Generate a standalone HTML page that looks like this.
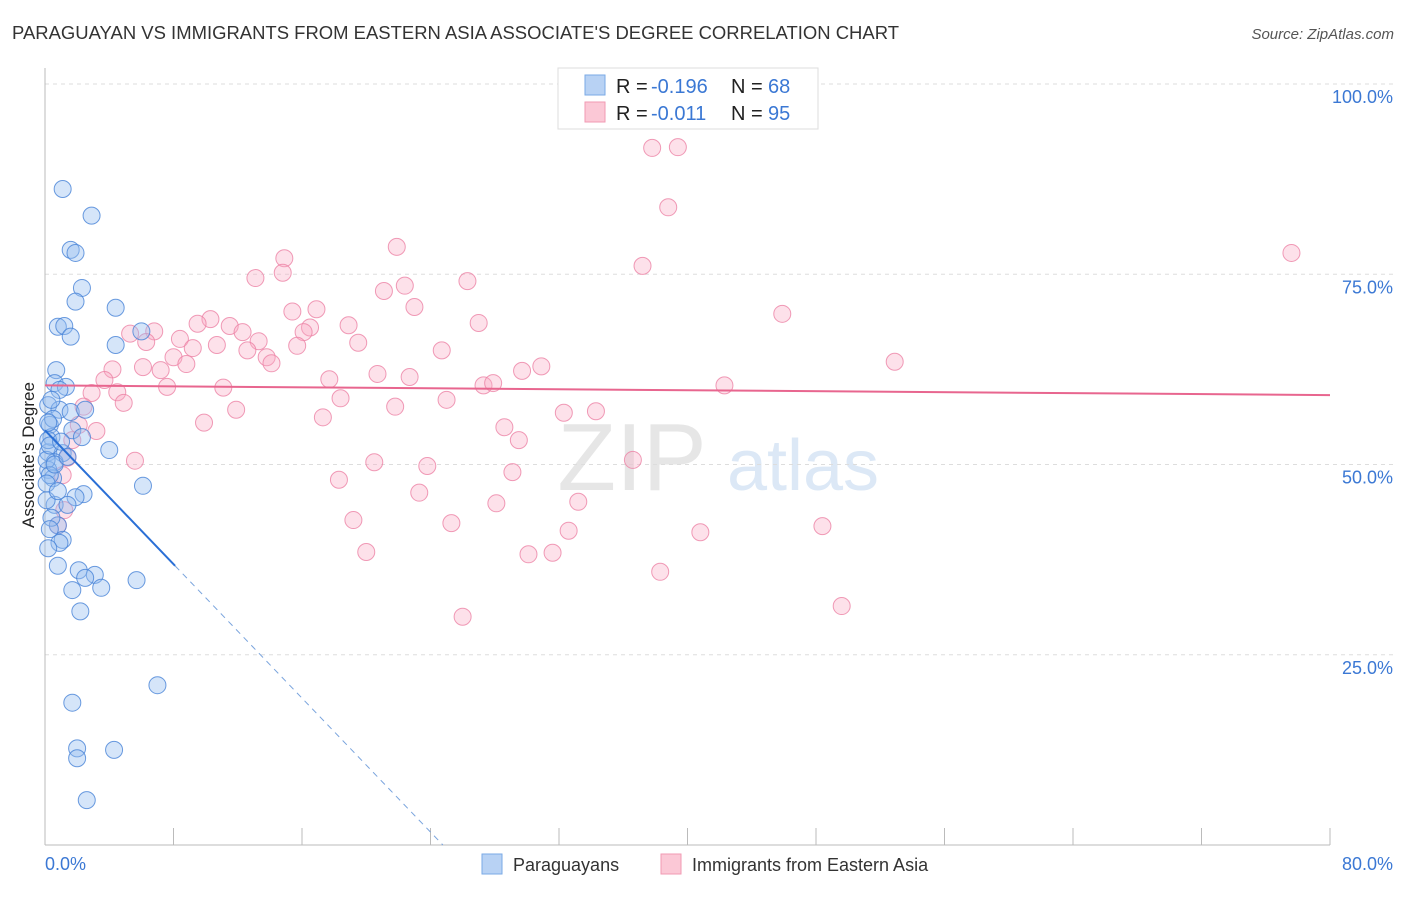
<!DOCTYPE html>
<html><head><meta charset="utf-8"><style>
body{margin:0;background:#fff;font-family:"Liberation Sans",sans-serif}
svg text{font-family:"Liberation Sans",sans-serif}
</style></head><body>
<svg id="chart" width="1406" height="892">
<text x="12" y="39" font-size="18" fill="#333" textLength="887" lengthAdjust="spacingAndGlyphs">PARAGUAYAN VS IMMIGRANTS FROM EASTERN ASIA ASSOCIATE'S DEGREE CORRELATION CHART</text>
<text x="1394" y="39" font-size="15" fill="#555" font-style="italic" text-anchor="end">Source: ZipAtlas.com</text>
<g><text x="632" y="490" font-size="96" fill="#e6e6e6" font-family="Liberation Serif" text-anchor="middle">ZIP</text><text x="803" y="490" font-size="72" fill="#dce8f6" text-anchor="middle">atlas</text></g>
<g id="grid"></g>
<g id="axes"></g>
<g id="pts"></g>
<g id="lines"></g>
<text transform="translate(34,455) rotate(-90)" font-size="17" fill="#222" text-anchor="middle">Associate's Degree</text>
<g>
<rect x="558" y="68" width="260" height="61" fill="#fff" stroke="#ddd"/>
<rect x="585" y="75" width="20" height="20" fill="#b8d2f4" stroke="#7aaae6"/>
<text x="616" y="93" font-size="20" fill="#222">R =</text>
<text x="651" y="93" font-size="20" fill="#3b78d4">-0.196</text>
<text x="731" y="93" font-size="20" fill="#222">N =</text>
<text x="768" y="93" font-size="20" fill="#3b78d4">68</text>
<rect x="585" y="102" width="20" height="20" fill="#fbc8d6" stroke="#f09ab3"/>
<text x="616" y="120" font-size="20" fill="#222">R =</text>
<text x="651" y="120" font-size="20" fill="#3b78d4">-0.011</text>
<text x="731" y="120" font-size="20" fill="#222">N =</text>
<text x="768" y="120" font-size="20" fill="#3b78d4">95</text>
</g>
<g>
<rect x="482" y="854" width="20" height="20" fill="#b8d2f4" stroke="#7aaae6"/>
<text x="513" y="871" font-size="18" fill="#333">Paraguayans</text>
<rect x="661" y="854" width="20" height="20" fill="#fbc8d6" stroke="#f09ab3"/>
<text x="692" y="871" font-size="18" fill="#333">Immigrants from Eastern Asia</text>
</g>
</svg>
<script>
const blueX=[1.1,2.9,1.6,1.9,2.3,1.9,4.4,0.8,1.2,1.6,4.4,6.0,0.7,0.6,1.3,0.9,0.2,0.9,1.6,2.5,0.3,0.4,1.7,2.3,4.0,0.2,1.1,0.6,0.2,0.5,6.1,2.4,1.9,0.6,1.4,0.8,1.1,0.9,0.8,2.1,3.1,2.5,5.7,1.7,3.5,2.2,7.0,1.7,2.0,2.0,4.3,2.6,0.2,0.1,0.3,0.1,0.4,0.2,0.5,0.3,0.1,1.0,0.6,0.2,0.8,1.4,0.4,0.3];
const blueY=[86.2,82.7,78.2,77.8,73.2,71.4,70.6,68.1,68.2,66.8,65.7,67.5,62.4,60.7,60.2,59.8,57.8,57.2,56.9,57.2,55.2,53.6,54.5,53.6,51.9,51.6,51.5,50.3,49.3,48.2,47.2,46.1,45.7,44.7,44.7,42.0,40.1,39.7,36.7,36.1,35.5,35.1,34.8,33.5,33.8,30.7,21.0,18.7,12.7,11.4,12.5,5.9,53.2,50.6,48.6,45.3,43.0,39.0,56.0,52.5,47.5,53.0,50.0,55.5,46.5,51.0,58.5,41.5];
const pinkX=[37.8,39.4,38.8,77.6,37.2,21.9,14.9,14.8,13.1,26.3,22.4,21.1,23.0,16.9,15.4,45.9,10.3,11.5,9.5,16.5,18.9,27.0,16.1,5.3,6.8,12.3,8.4,6.3,13.3,10.7,9.2,12.6,15.7,19.5,24.7,13.8,8.0,8.8,14.1,52.9,30.9,6.1,7.2,4.2,29.7,20.7,17.7,22.7,3.7,7.6,11.1,27.3,27.9,42.3,2.9,4.5,4.9,18.4,25.0,2.4,11.9,21.8,32.3,34.3,17.3,9.9,2.1,3.2,28.6,1.7,29.5,1.4,5.6,20.5,36.6,23.8,29.1,18.3,1.1,23.3,33.2,28.1,1.2,19.2,25.3,48.4,32.6,40.8,0.8,20.0,30.1,31.6,38.3,49.6,26.0];
const pinkY=[91.6,91.7,83.8,77.8,76.1,78.6,77.1,75.2,74.5,74.1,73.5,72.8,70.7,70.4,70.1,69.8,69.1,68.2,68.5,68.0,68.3,68.6,67.4,67.2,67.5,67.4,66.5,66.1,66.2,65.7,65.3,65.0,65.6,66.0,65.0,64.1,64.1,63.2,63.3,63.5,62.9,62.8,62.4,62.5,62.3,61.9,61.2,61.5,61.1,60.2,60.1,60.4,60.7,60.4,59.4,59.5,58.1,58.7,58.5,57.6,57.2,57.6,56.8,57.0,56.2,55.5,55.2,54.4,54.9,53.2,53.2,50.9,50.5,50.3,50.6,49.8,49.0,48.0,48.6,46.3,45.1,44.9,44.0,42.7,42.3,41.9,41.3,41.1,42.0,38.5,38.2,38.4,35.9,31.4,30.0];
const yTicks=[25,50,75,100];
const yTickLabels=["25.0%","50.0%","75.0%","100.0%"];
const xTicks=[0,8,16,24,32,40,48,56,64,72,80];
const blueTrend=[54.5,-2.2];
const pinkTrend=[60.4,-0.016];
const X=v=>45+v/80*1285, Y=v=>845-v*7.61;
const NS="http://www.w3.org/2000/svg";
function mk(p,t,a){const e=document.createElementNS(NS,t);for(const k in a)e.setAttribute(k,a[k]);p.appendChild(e);return e;}
const grid=document.getElementById('grid'),axes=document.getElementById('axes'),pts=document.getElementById('pts'),lines=document.getElementById('lines');
const gl=mk(grid,'line',{x1:45,x2:1393,y1:Y(100),y2:Y(100),stroke:'#ddd','stroke-dasharray':'4,4'});


yTicks.forEach((v,i)=>{
 if(v<100){const g=mk(grid,'line',{x1:45,x2:1393,y1:Y(v),y2:Y(v),stroke:'#ddd','stroke-dasharray':'4,4'});
 
 }
 const t=mk(axes,'text',{x:1393,y:Y(v)+19,'font-size':18,fill:'#3b78d4','text-anchor':'end'});t.textContent=yTickLabels[i];
 
 
});
mk(axes,'line',{x1:45,x2:45,y1:68,y2:845,stroke:'#bbb'});
mk(axes,'line',{x1:45,x2:1330,y1:845,y2:845,stroke:'#bbb'});
xTicks.forEach(v=>{const l=mk(axes,'line',{x1:X(v),x2:X(v),y1:828,y2:845,stroke:'#bbb'});
 
 });
let t0=mk(axes,'text',{x:45,y:870,'font-size':18,fill:'#3b78d4'});t0.textContent='0.0%';


let t1=mk(axes,'text',{x:1393,y:870,'font-size':18,fill:'#3b78d4','text-anchor':'end'});t1.textContent='80.0%';


pinkX.forEach((x,i)=>{const c=mk(pts,'circle',{cx:X(x),cy:Y(pinkY[i]),r:8.5,fill:'rgba(248,170,195,0.35)',stroke:'rgba(236,130,165,0.8)','stroke-width':1});
 
 });
blueX.forEach((x,i)=>{const c=mk(pts,'circle',{cx:X(x),cy:Y(blueY[i]),r:8.5,fill:'rgba(150,190,240,0.4)',stroke:'rgba(70,130,215,0.8)','stroke-width':1});
 
 });
const bx1=8.1,bx2=-blueTrend[0]/blueTrend[1];
const b1=mk(lines,'line',{x1:X(0),y1:Y(blueTrend[0]),x2:X(bx1),y2:Y(blueTrend[0]+blueTrend[1]*bx1),stroke:'#2a6fd6','stroke-width':2});


const b2=mk(lines,'line',{x1:X(bx1),y1:Y(blueTrend[0]+blueTrend[1]*bx1),x2:X(bx2),y2:Y(0),stroke:'#7aa4dd','stroke-width':1,'stroke-dasharray':'6,5'});


const p1=mk(lines,'line',{x1:X(0),y1:Y(pinkTrend[0]),x2:X(80),y2:Y(pinkTrend[0]+pinkTrend[1]*80),stroke:'#e8668f','stroke-width':2});


</script>
</body></html>
